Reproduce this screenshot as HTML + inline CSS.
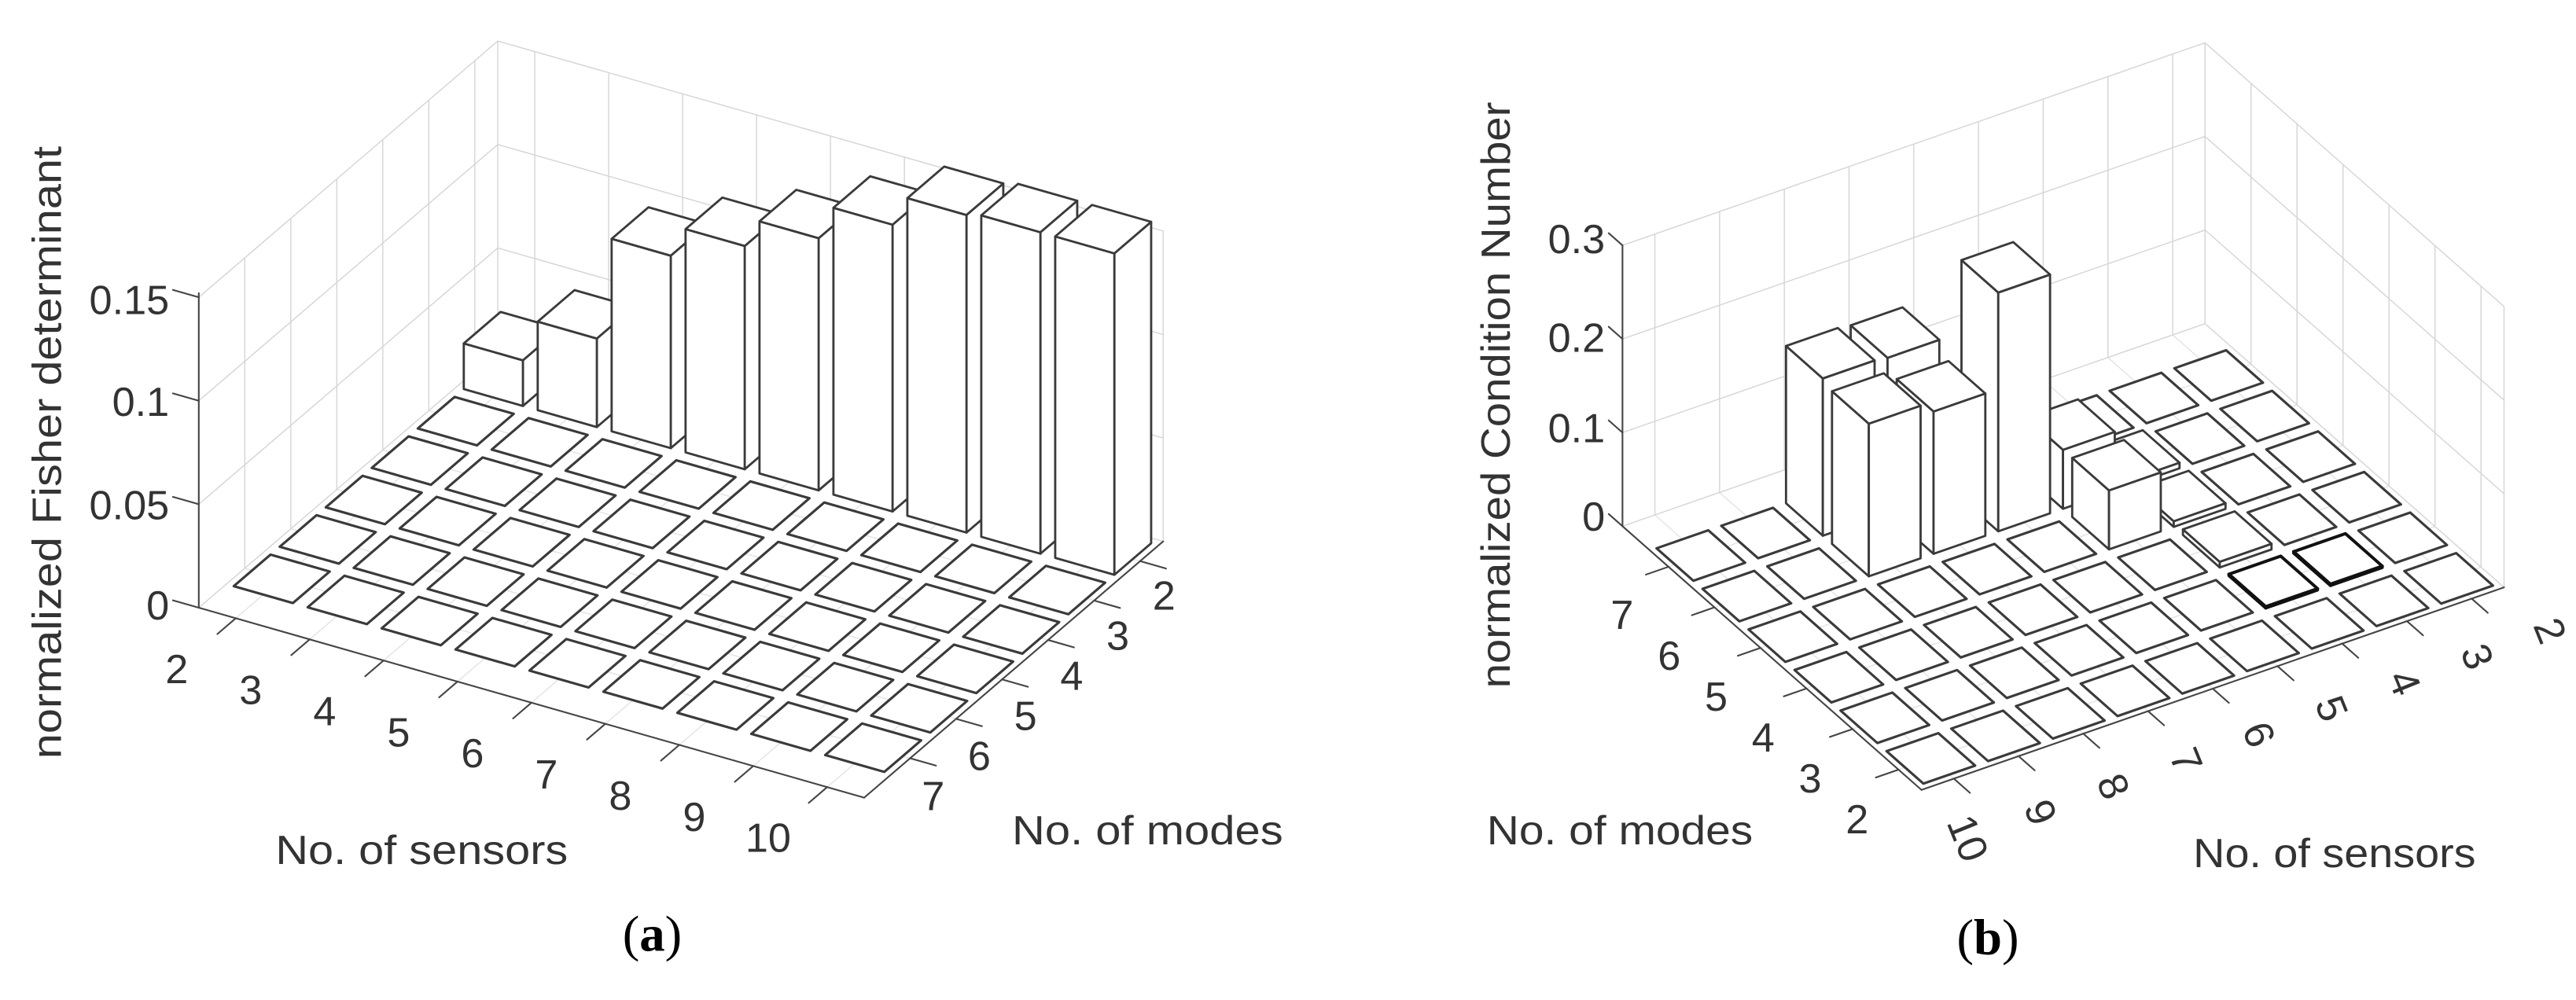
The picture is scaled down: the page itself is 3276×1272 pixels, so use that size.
<!DOCTYPE html>
<html><head><meta charset="utf-8"><style>html,body{margin:0;padding:0;background:#fff}svg{display:block}</style></head>
<body>
<svg id="s" xmlns="http://www.w3.org/2000/svg" width="3276" height="1272" viewBox="0 0 1568 608.8">
<rect width="1568" height="608.8" fill="#fff"/>
<g id="ga"></g><g id="gb"></g>
<g font-family="Liberation Sans, Arial, sans-serif" font-size="25" fill="#333">
<g text-anchor="end" dominant-baseline="central">
<text x="103" y="183">0.15</text><text x="103" y="245">0.1</text><text x="103" y="308">0.05</text><text x="103" y="369">0</text>
<text x="977" y="146">0.3</text><text x="977" y="206">0.2</text><text x="977" y="261">0.1</text><text x="977" y="315">0</text>
</g>
<g text-anchor="middle" dominant-baseline="central">
<text x="107.6" y="407.7">2</text><text x="152.6" y="420.5">3</text><text x="197.6" y="433.4">4</text><text x="242.6" y="446.2">5</text><text x="287.6" y="459.1">6</text><text x="332.6" y="472">7</text><text x="377.6" y="484.8">8</text><text x="422.6" y="497.7">9</text><text x="467.6" y="510.5">10</text>
<text x="708.5" y="363">2</text><text x="680.4" y="387.4">3</text><text x="652.3" y="411.8">4</text><text x="624.2" y="436.2">5</text><text x="596.1" y="460.6">6</text><text x="568" y="485">7</text>
<text x="987.4" y="374.7">7</text><text x="1016" y="399.6">6</text><text x="1044.6" y="424.5">5</text><text x="1073.2" y="449.4">4</text><text x="1101.8" y="474.3">3</text><text x="1130.4" y="499.2">2</text>
<text transform="translate(1197.4,510.5) rotate(68)">10</text>
<text transform="translate(1241.7,494.7) rotate(68)">9</text>
<text transform="translate(1286,478.9) rotate(68)">8</text>
<text transform="translate(1330.3,463.1) rotate(68)">7</text>
<text transform="translate(1374.6,447.3) rotate(68)">6</text>
<text transform="translate(1418.9,431.5) rotate(68)">5</text>
<text transform="translate(1463.2,415.7) rotate(68)">4</text>
<text transform="translate(1507.5,399.9) rotate(68)">3</text>
<text transform="translate(1551.8,384.1) rotate(68)">2</text>
</g>
<text x="167.7" y="526" textLength="178" lengthAdjust="spacingAndGlyphs">No. of sensors</text>
<text x="616" y="514" textLength="165" lengthAdjust="spacingAndGlyphs">No. of modes</text>
<text x="905" y="514" textLength="162" lengthAdjust="spacingAndGlyphs">No. of modes</text>
<text x="1335" y="528" textLength="172" lengthAdjust="spacingAndGlyphs">No. of sensors</text>
<text transform="translate(37,462) rotate(-90)" textLength="373" lengthAdjust="spacingAndGlyphs">normalized Fisher determinant</text>
<text transform="translate(919,419) rotate(-90)" textLength="357" lengthAdjust="spacingAndGlyphs">normalized Condition Number</text>
</g>
<g font-family="Liberation Serif, serif" font-size="31" fill="#000" text-anchor="middle">
<text x="397" y="579">(<tspan font-weight="bold">a</tspan>)</text>
<text x="1210" y="581">(<tspan font-weight="bold">b</tspan>)</text>
</g>
</svg>
<script>
var NS="http://www.w3.org/2000/svg";
function el(g,t,a){var e=document.createElementNS(NS,t);for(var k in a)e.setAttribute(k,a[k]);g.appendChild(e);return e;}
function line(g,p,q,c,w){el(g,"line",{x1:p[0],y1:p[1],x2:q[0],y2:q[1],stroke:c,"stroke-width":w,"stroke-linecap":"round"});}
function poly(g,pts,w,c){el(g,"polygon",{points:pts.map(function(p){return p[0].toFixed(2)+","+p[1].toFixed(2)}).join(" "),fill:"#fff",stroke:c||"#3a3a3a","stroke-width":w||1.35,"stroke-linejoin":"round"});}
var Sa=[45,12.85],Ma=[28,-24],C0=[171.5,352.4],ka=1260;
function A(s,m,z){return [C0[0]+(s-2)*Sa[0]+(7-m)*Ma[0], C0[1]+(s-2)*Sa[1]+(7-m)*Ma[1]-z*ka];}
var Sb=[39.4,-13.7],Mb=[28,24.7],D0=[1035.3,338.2],kb=570;
function B(s,m,z){return [D0[0]+(10-s)*Sb[0]+(7-m)*Mb[0], D0[1]+(10-s)*Sb[1]+(7-m)*Mb[1]-z*kb];}
var ga=document.getElementById("ga"),gb=document.getElementById("gb");
var GC="#d6d6d6",GW=0.7;
(function(){
 var zt=[0.05,0.1,0.15],s,m;
 for(m=2;m<=7;m++){line(ga,A(1.5,m,0),A(1.5,m,0.15),GC,GW);line(ga,A(1.5,m,0),A(10.5,m,0),"#e4e4e4",GW);}
 for(s=2;s<=10;s++){line(ga,A(s,1.5,0),A(s,1.5,0.15),GC,GW);line(ga,A(s,1.5,0),A(s,8,0),"#e4e4e4",GW);}
 line(ga,A(1.5,1.5,0),A(1.5,1.5,0.15),GC,GW);line(ga,A(10.5,1.5,0),A(10.5,1.5,0.15),GC,GW);
 zt.forEach(function(z){line(ga,A(1.5,8,z),A(1.5,1.5,z),GC,GW);line(ga,A(1.5,1.5,z),A(10.5,1.5,z),GC,GW);});
 line(ga,A(1.5,8,0),A(1.5,1.5,0),GC,GW);line(ga,A(1.5,1.5,0),A(10.5,1.5,0),GC,GW);
 var AC="#444",AW=1;
 line(ga,A(1.5,8,0),A(10.5,8,0),AC,AW);line(ga,A(10.5,8,0),A(10.5,1.5,0),AC,AW);line(ga,A(1.5,8,0),A(1.5,8,0.152),AC,AW);
 for(s=2;s<=10;s++)line(ga,A(s,8,0),A(s,8.4,0),AC,AW);
 for(m=2;m<=7;m++)line(ga,A(10.5,m,0),A(10.85,m,0),AC,AW);
 [0,0.05,0.1,0.15].forEach(function(z){line(ga,A(1.5,8,z),A(1.15,8,z),AC,AW);});
 var h={}; var ha=[0.0237,0.046,0.1,0.116,0.131,0.149,0.165,0.167,0.167];
 for(s=2;s<=10;s++)h[s+"_2"]=ha[s-2]*0.93;
 var cells=[];for(s=2;s<=10;s++)for(m=2;m<=7;m++)cells.push([s,m]);
 cells.sort(function(a,b){return (a[0]+a[1])-(b[0]+b[1]);});
 cells.forEach(function(c){var s=c[0],m=c[1],z=h[s+"_"+m]||0,d=0.4;
  if(z>0){
   poly(ga,[A(s+d,m-d,0),A(s+d,m+d,0),A(s+d,m+d,z),A(s+d,m-d,z)]);
   poly(ga,[A(s-d,m+d,0),A(s+d,m+d,0),A(s+d,m+d,z),A(s-d,m+d,z)]);
  }
  poly(ga,[A(s-d,m-d,z),A(s+d,m-d,z),A(s+d,m+d,z),A(s-d,m+d,z)],z>0?1.35:1.5);
 });
})();
(function(){
 var s,m;
 for(s=2;s<=10;s++){line(gb,B(s,8,0),B(s,8,0.3),GC,GW);line(gb,B(s,8,0),B(s,1.5,0),"#e4e4e4",GW);}
 for(m=2;m<=7;m++){line(gb,B(1.5,m,0),B(1.5,m,0.3),GC,GW);line(gb,B(1.5,m,0),B(10.5,m,0),"#e4e4e4",GW);}
 line(gb,B(1.5,8,0),B(1.5,8,0.3),GC,GW);line(gb,B(1.5,1.5,0),B(1.5,1.5,0.3),GC,GW);
 [0,0.1,0.2,0.3].forEach(function(z){line(gb,B(10.5,8,z),B(1.5,8,z),GC,GW);line(gb,B(1.5,8,z),B(1.5,1.5,z),GC,GW);});
 var AC="#444",AW=1;
 line(gb,B(10.5,8,0),B(10.5,1.5,0),AC,AW);line(gb,B(10.5,1.5,0),B(1.5,1.5,0),AC,AW);line(gb,B(10.5,8,0),B(10.5,8,0.3),AC,AW);
 for(m=2;m<=7;m++)line(gb,B(10.5,m,0),B(10.85,m,0),AC,AW);
 for(s=2;s<=10;s++)line(gb,B(s,1.5,0),B(s,1.15,0),AC,AW);
 [0,0.1,0.2,0.3].forEach(function(z){line(gb,B(10.5,8,z),B(10.5,8.3,z),AC,AW);});
 var h={"8_7":0.168,"7_7":0.166,"8_6":0.163,"7_6":0.152,"6_6":0.255,"5_6":0.063,"5_5":0.063,"4_6":0.006,"4_5":0.006,"4_4":0.006,"4_3":0.0015,"3_3":0.0015};
 var bold={"4_3":1,"3_3":1};
 var cells=[];for(s=2;s<=10;s++)for(m=2;m<=7;m++)cells.push([s,m]);
 cells.sort(function(a,b){return (a[0]-a[1])-(b[0]-b[1]);});
 cells.forEach(function(c){var s=c[0],m=c[1],k=s+"_"+m,z=h[k]||0,d=0.4;
  var w=bold[k]?1.9:(z>0?1.35:1.5),col=bold[k]?"#111":"#3a3a3a";
  if(z>0){
   poly(gb,[B(s+d,m-d,0),B(s+d,m+d,0),B(s+d,m+d,z),B(s+d,m-d,z)],w,col);
   poly(gb,[B(s-d,m-d,0),B(s+d,m-d,0),B(s+d,m-d,z),B(s-d,m-d,z)],w,col);
  }
  poly(gb,[B(s-d,m-d,z),B(s+d,m-d,z),B(s+d,m+d,z),B(s-d,m+d,z)],w,col);
 });
})();
</script>
</body></html>
